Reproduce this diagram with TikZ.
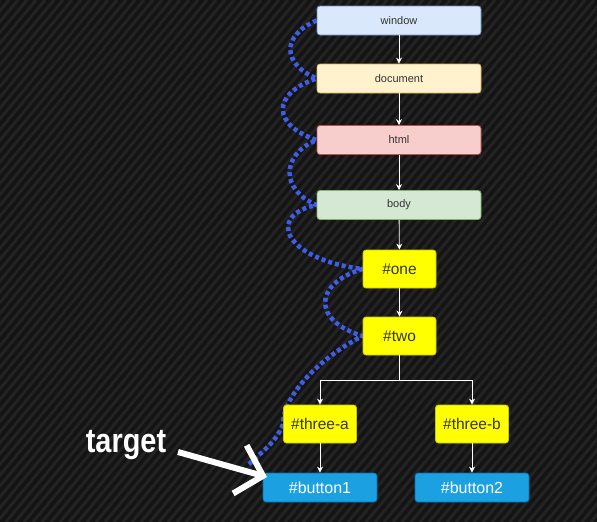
\documentclass[tikz,border=0pt]{standalone}
\usepackage{fontspec}
\setmainfont{Liberation Sans}
\usetikzlibrary{positioning,arrows.meta}

\definecolor{bgdark}{HTML}{141414}
\definecolor{stripegray}{HTML}{232323}
\definecolor{textgray}{HTML}{333333}
\definecolor{winfill}{HTML}{DAE8FC}
\definecolor{windraw}{HTML}{6C8EBF}
\definecolor{docfill}{HTML}{FFF2CC}
\definecolor{docdraw}{HTML}{D6B656}
\definecolor{htmlfill}{HTML}{F8CECC}
\definecolor{htmldraw}{HTML}{B85450}
\definecolor{bodyfill}{HTML}{D5E8D4}
\definecolor{bodydraw}{HTML}{82B366}
\definecolor{selyellow}{HTML}{FFFF00}
\definecolor{seldraw}{HTML}{C8C800}
\definecolor{btnblue}{HTML}{1BA1E2}
\definecolor{btndraw}{HTML}{006EAF}
\definecolor{bubbleblue}{HTML}{3F5DE6}

\pgfdeclarelayer{back}
\pgfdeclarelayer{mid}
\pgfsetlayers{back,mid,main}

\begin{document}
\begin{tikzpicture}[x=1pt, y=-1pt,
  box/.style={draw, rectangle, rounded corners=3pt, line width=0.8pt, text=textgray,
    font=\fontsize{11}{13}\selectfont},
  wide/.style={box, minimum width=164pt, minimum height=29pt},
  sel/.style={box, fill=selyellow, draw=seldraw, minimum width=73pt, minimum height=38pt,
    font=\fontsize{15.5}{18}\selectfont},
  btn/.style={box, fill=btnblue, draw=btndraw, text=white, minimum width=114pt,
    minimum height=29pt, font=\fontsize{16}{19}\selectfont},
  link/.style={draw=white, line width=0.8pt, -{Stealth[length=6pt,width=6pt]}},
  stripe/.style={draw=stripegray, line width=3pt},
  bubble/.style={draw=bubbleblue, line width=4.5pt, dash pattern=on 4pt off 3pt}
]
\useasboundingbox (0,0) rectangle (597,522);

% Background
\begin{pgfonlayer}{back}
  \fill[bgdark] (0,0) rectangle (597,522);
  \begin{scope}
    \clip (0,0) rectangle (597,522);
    \foreach \s in {0,9,...,1044}
      \draw[stripe] (\s,0) -- ++(-435,522);
  \end{scope}
\end{pgfonlayer}

% DOM tree
\node[wide, fill=winfill, draw=windraw] (window) at (399,20.5) {window};
\node[wide, fill=docfill, draw=docdraw] (document) at (399,78.5) {document};
\node[wide, fill=htmlfill, draw=htmldraw] (html) at (399,140) {html};
\node[wide, fill=bodyfill, draw=bodydraw] (body) at (399,205) {body};
\node[sel] (one) at (399.5,269) {\#one};
\node[sel] (two) at (399.5,336) {\#two};
\node[sel] (threea) at (320,424) {\#three-a};
\node[sel] (threeb) at (472,424) {\#three-b};
\node[btn] (button1) at (320,487.5) {\#button1};
\node[btn] (button2) at (472,487.5) {\#button2};

% Links
\draw[link] (window) -- (document);
\draw[link] (document) -- (html);
\draw[link] (html) -- (body);
\draw[link] (body) -- (one);
\draw[link] (one) -- (two);
\draw[link] (two.south) -- ++(0,25) -| (threea.north);
\draw[link] (two.south) -- ++(0,25) -| (threeb.north);
\draw[link] (threea) -- (button1);
\draw[link] (threeb) -- (button2);

% Capture path
\coordinate (hit) at (247,466);
\begin{pgfonlayer}{mid}
\draw[bubble] (window.west)
  .. controls +(-35,15) and +(-35,-15) .. (document.west)
  .. controls +(-45,15) and +(-45,-15) .. (html.west)
  .. controls +(-36,15) and +(-36,-15) .. (body.west)
  .. controls +(-50,10) and +(-80,-10) .. (one.west)
  .. controls +(-50,15) and +(-50,-15) .. (two.west)
  .. controls +(-40,20) and +(0,-30) .. (threea.west)
  .. controls +(-8,20) and +(15,-15) .. (hit);
\end{pgfonlayer}

% Target marker
\node[text=white, font=\fontsize{34}{40}\selectfont\bfseries] (target) at (126,445)
  {\scalebox{0.85}[1]{target}};
\coordinate (tip) at (267,477);
\draw[draw=white, line width=6pt, -{Straight Barb[length=24pt,width=50pt]}]
  (178,452) -- (tip);

\end{tikzpicture}
\end{document}
